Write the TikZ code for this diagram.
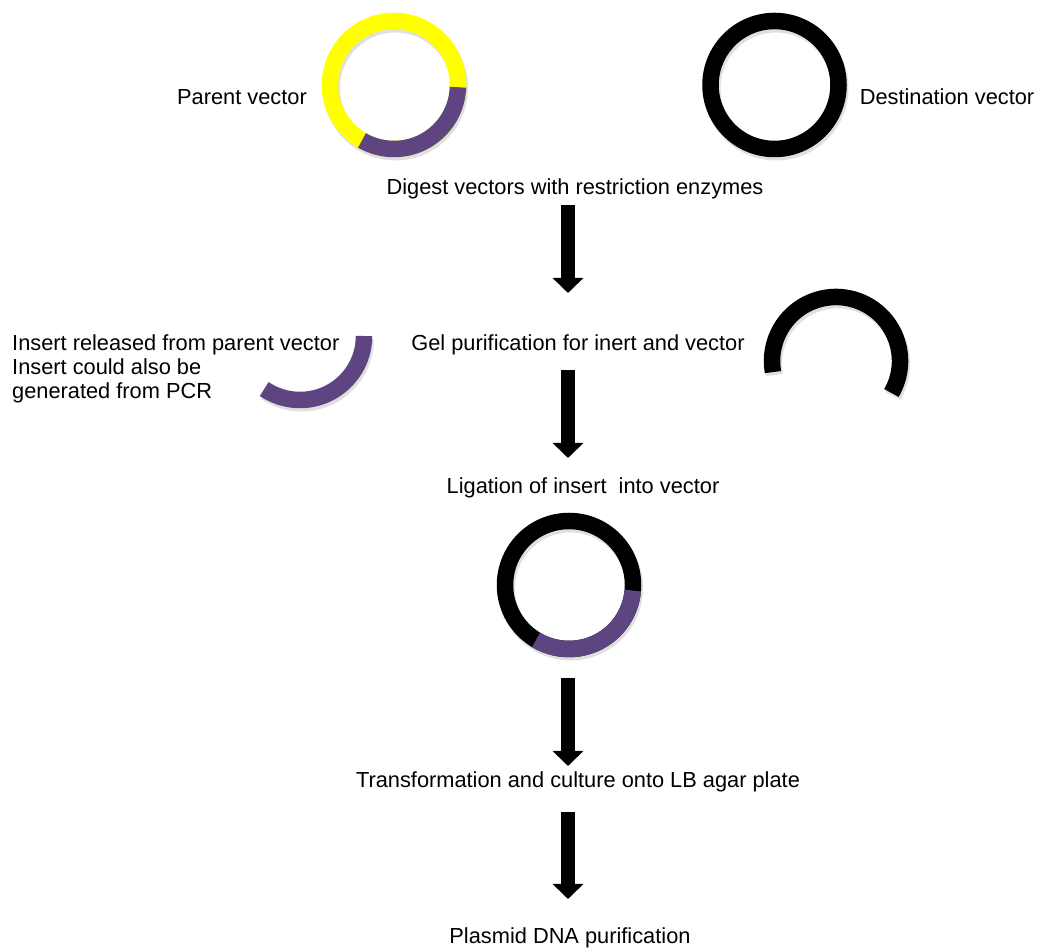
\documentclass[tikz,border=0pt]{standalone}
\usepackage{fontspec}
\setmainfont{Liberation Sans}
\usetikzlibrary{arrows.meta}
\definecolor{ringpurple}{HTML}{5E4581}
\definecolor{ringyellow}{HTML}{FFFF00}
\begin{document}
\begin{tikzpicture}[x=1pt,y=1pt,
  lbl/.style={inner sep=0pt, font=\fontsize{21.8}{24}\selectfont},
  ring/.style={line width=16.5pt},
  shadowring/.style={line width=17pt, draw=black, opacity=0.12},
  bigarrow/.style={line width=14pt, -{Triangle[width=30pt,length=15pt]}, shorten >=-1pt}]
\useasboundingbox (0,0) rectangle (1046,949);
\fill[white] (0,0) rectangle (1046,949);

% ---- parent vector ----
\coordinate (pc) at (394,864);
\draw[shadowring] ([shift={(1.5,-3)}]pc) circle[radius=64];
\draw[ring, ringyellow] (pc) circle[radius=64];
\draw[ring, ringpurple] ([shift={(-2:64)}]pc) arc[start angle=-2, end angle=-120, radius=64];

% ---- destination vector ----
\coordinate (dc) at (774.5,864);
\draw[shadowring] ([shift={(1.5,-3)}]dc) circle[radius=64];
\draw[ring, black] (dc) circle[radius=64];

% ---- insert fragment ----
\coordinate (ic) at (300,613);
\draw[shadowring] ([shift={(1.5,-3)}]ic) ++(0:64) arc[start angle=0, end angle=-124, radius=64];
\draw[ring, ringpurple] ([shift={(0:64)}]ic) arc[start angle=0, end angle=-124, radius=64];

% ---- cut destination vector ----
\coordinate (cc) at (836,588);
\draw[shadowring] ([shift={(1.5,-3)}]cc) ++(-30:64) arc[start angle=-30, end angle=190, radius=64];
\draw[ring, black] ([shift={(-30:64)}]cc) arc[start angle=-30, end angle=190, radius=64];

% ---- ligated vector ----
\coordinate (lc) at (569,364);
\draw[shadowring] ([shift={(1.5,-3)}]lc) circle[radius=64];
\draw[ring, black] (lc) circle[radius=64];
\draw[ring, ringpurple] ([shift={(-5:64)}]lc) arc[start angle=-5, end angle=-121, radius=64];

% ---- labels ----
\node[lbl] (parent) at (242,852) {Parent vector};
\node[lbl] (dest) at (947,852) {Destination vector};
\node[lbl] (digest) at (575,760) {Digest vectors with restriction enzymes};
\node[lbl, align=left, anchor=west] (insert) at (12,580) {Insert released from parent vector\\Insert could also be\\generated from PCR};
\node[lbl] (gel) at (578,604) {Gel purification for inert and vector};
\node[lbl] (lig) at (583,461) {Ligation of insert~ into vector};
\node[lbl] (trans) at (578,167) {Transformation and culture onto LB agar plate};
\node[lbl] (plasmid) at (570,11) {Plasmid DNA purification};

% ---- arrows ----
\coordinate (a1s) at (568,744); \coordinate (a1e) at (568,657);
\coordinate (a2s) at (568,579); \coordinate (a2e) at (568,492);
\coordinate (a3s) at (568,271); \coordinate (a3e) at (568,184);
\coordinate (a4s) at (568,137); \coordinate (a4e) at (568,51);
\draw[bigarrow] (a1s) -- (a1e);
\draw[bigarrow] (a2s) -- (a2e);
\draw[bigarrow] (a3s) -- (a3e);
\draw[bigarrow] (a4s) -- (a4e);
\end{tikzpicture}
\end{document}
